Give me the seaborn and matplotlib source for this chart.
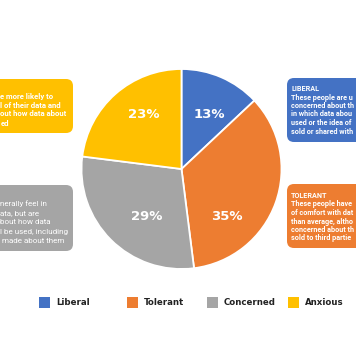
import matplotlib
matplotlib.use("Agg")
import matplotlib.pyplot as plt
from matplotlib.patches import FancyBboxPatch, Rectangle
import seaborn as sns

# ---- data ----
segments = ["Liberal", "Tolerant", "Concerned", "Anxious"]
shares = [13, 35, 29, 23]
colors = ["#4472C4", "#ED7D31", "#A5A5A5", "#FFC000"]
pct_labels = ["13%", "35%", "29%", "23%"]

liberal_text = ["LIBERAL", "These people are u", "concerned about th",
                "in which data abou", "used or the idea of", "sold or shared with"]
tolerant_text = ["TOLERANT", "These people have", "of comfort with dat",
                 "than average, altho", "concerned about th", "sold to third partie"]
anxious_text = ["e more likely to", "l of their data and", "out how data about", "ed"]
concerned_text = ["nerally feel in", "ata, but are", "bout how data",
                  "l be used, including", " made about them"]

sns.set_theme(style="white")
plt.rcParams['font.family'] = ['DejaVu Sans']

W, H = 356, 364
fig = plt.figure(figsize=(W / 100, H / 100), dpi=100)
fig.patch.set_facecolor("white")

# overlay axes in pixel coordinates for boxes / legend
bg = fig.add_axes([0, 0, 1, 1])
bg.set_xlim(0, W)
bg.set_ylim(H, 0)
bg.axis("off")

def box(x0, y0, x1, y1, color):
    p = FancyBboxPatch((x0, y0), x1 - x0, y1 - y0,
                       boxstyle="round,pad=0,rounding_size=7",
                       facecolor=color, edgecolor="none")
    bg.add_patch(p)

# info boxes
box(-20, 79, 73, 133, colors[3])
box(-20, 185, 73, 251, colors[2])
box(287, 78, 380, 142, colors[0])
box(287, 184, 380, 248, colors[1])

def lines(x, ys, texts, bold=True, size=5.4):
    for y, t in zip(ys, texts):
        bg.text(x, y, t, color="white", fontsize=size,
                fontweight="bold" if bold else "normal",
                ha="left", va="center", family=["Roboto", "DejaVu Sans"])

lines(0.5, [96, 105, 114, 123], anxious_text, size=5.6)
lines(0.5, [204, 213, 222, 232, 241], concerned_text, bold=False, size=5.8)
lines(291, [89, 97.5, 106, 114.5, 123, 131.5], liberal_text, size=5.2)
lines(291, [196, 204.5, 213, 221.5, 230, 238.5], tolerant_text, size=5.2)

# legend
leg_sq_x = [39, 127, 207, 288]
for lab, col, sx in zip(segments, colors, leg_sq_x):
    bg.add_patch(Rectangle((sx, 297), 11, 11, facecolor=col, edgecolor="none"))
    bg.text(sx + 17, 302.5, lab, fontsize=6.2, fontweight="bold", color="#222222",
            ha="left", va="center")

# pie
cx, cy, r = 181.5, 169, 101
ax = fig.add_axes([(cx - r) / W, (H - cy - r) / H, 2 * r / W, 2 * r / H])
wedges, _, autotexts = ax.pie(shares, colors=colors, startangle=90, counterclock=False,
                              radius=1, autopct="%d%%",
                              wedgeprops=dict(edgecolor="white", linewidth=1.3),
                              textprops=dict(color="white", fontsize=9.5, fontweight="bold"))
label_pos = [(0.28, 0.54), (0.45, -0.48), (-0.35, -0.48), (-0.38, 0.54)]
for t, s, p in zip(autotexts, pct_labels, label_pos):
    t.set_text(s)
    t.set_position(p)
    t.set_ha("center")
    t.set_va("center")
ax.set_xlim(-1.01, 1.01)
ax.set_ylim(-1.01, 1.01)
ax.set_aspect("equal")
ax.axis("off")

fig.savefig("out.png", dpi=100, facecolor="white")
